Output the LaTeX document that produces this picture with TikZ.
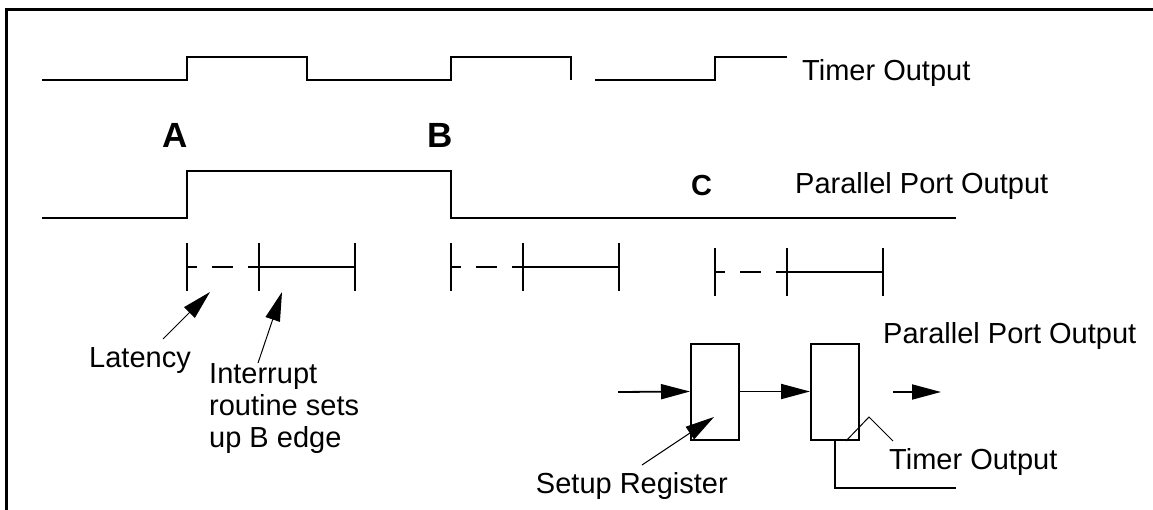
\documentclass[tikz,border=0pt]{standalone}
\usepackage{fontspec}
\setmainfont{Liberation Sans}
\usetikzlibrary{arrows.meta}

\begin{document}
\begin{tikzpicture}[x=1pt, y=-1pt,
        wave/.style={line width=2pt},
        tick/.style={line width=2pt},
        latdash/.style={line width=2pt, dash pattern=on 10pt off 15pt on 21pt off 15pt on 11pt off 10pt},
        ptr/.style={line width=1pt, -{Triangle[length=29pt, width=15pt]}},
        flow/.style={line width=1.8pt, -{Triangle[length=29pt, width=15pt]}},
        lbl/.style={inner sep=0pt, font=\fontsize{29}{32}\selectfont},
        edgelbl/.style={inner sep=0pt, font=\fontsize{35}{38}\selectfont\bfseries},
        reg/.style={draw, line width=2pt, minimum width=48pt, minimum height=96pt, inner sep=0pt}]
                \useasboundingbox (0,0) rectangle (1153,510);
                \draw [line width=3pt] (6,510) -- (6,10) -- (1153,10);
                % timer output
                \draw [wave] (42,80) -- (187,80) -- (187,57) -- (307,57) -- (307,80) -- (451,80) -- (451,57) -- (571,57) -- (571,80);
                \draw [wave] (595,80) -- (715,80) -- (715,57) -- (787,57);
                \node [lbl, anchor=base west] (tmrName) at (802,81) {Timer Output};
                % parallel port output
                \draw [wave] (42,218) -- (187,218) -- (187,171) -- (451,171) -- (451,218) -- (956,218);
                \node [lbl, anchor=base west] (ppoName) at (795,194) {Parallel Port Output};
                \node [edgelbl, anchor=base west] (ltrA) at (162,148) {A};
                \node [edgelbl, anchor=base west] (ltrB) at (427,148) {B};
                \node [edgelbl, font=\fontsize{29}{32}\selectfont\bfseries, anchor=base west] (ltrC) at (691,196) {C};
                % latency brackets
                \draw [tick] (187,243) -- (187,291);
                \draw [tick] (259,243) -- (259,291);
                \draw [tick] (355,243) -- (355,291);
                \draw [latdash] (187,267) -- (259,267);
                \draw [tick] (259,267) -- (355,267);
                \draw [tick] (451,243) -- (451,291);
                \draw [tick] (523,243) -- (523,291);
                \draw [tick] (619,243) -- (619,291);
                \draw [latdash] (451,267) -- (523,267);
                \draw [tick] (523,267) -- (619,267);
                \draw [tick] (715,248) -- (715,296);
                \draw [tick] (787,248) -- (787,296);
                \draw [tick] (883,248) -- (883,296);
                \draw [latdash] (715,272) -- (787,272);
                \draw [tick] (787,272) -- (883,272);
                % pointers to the brackets
                \node [lbl, anchor=base west] (latName) at (89,367) {Latency};
                \node [lbl, anchor=base west, align=left] (isrName) at (209,447) {Interrupt\\routine sets\\up B edge};
                \coordinate (latTail) at (163,339);
                \coordinate (latTip) at (210,292);
                \draw [ptr] (latTail) -- (latTip);
                \coordinate (isrTail) at (258,363);
                \coordinate (isrTip) at (282,292);
                \draw [ptr] (isrTail) -- (isrTip);
                % registers
                \node [reg] (setupReg) at (715,391.5) {};
                \node [reg] (timerReg) at (835,391.5) {};
                \coordinate (inFeed) at (618,392);
                \draw [flow] (inFeed) -- (setupReg.west);
                \draw [flow] (setupReg.east) -- (timerReg.west);
                \coordinate (outTail) at (893,392);
                \coordinate (outTip) at (941,392);
                \draw [flow] (outTail) -- (outTip);
                \node [lbl, anchor=base west] (ppoOut) at (883,344) {Parallel Port Output};
                \coordinate (srTail) at (642,465);
                \coordinate (srTip) at (714,417);
                \draw [ptr] (srTail) -- (srTip);
                \node [lbl, anchor=base east] (srName) at (728,493) {Setup Register};
                \coordinate (tmrWireEnd) at (956,488);
                \draw [wave] (timerReg.south) |- (tmrWireEnd);
                \coordinate (caretL) at (846,441);
                \coordinate (caretTop) at (869,417);
                \coordinate (caretR) at (893,441);
                \draw [line width=1pt] (caretL) -- (caretTop) -- (caretR);
                \node [lbl, anchor=base west] (tmrOut) at (889,469) {Timer Output};
            \end{tikzpicture}
\end{document}
